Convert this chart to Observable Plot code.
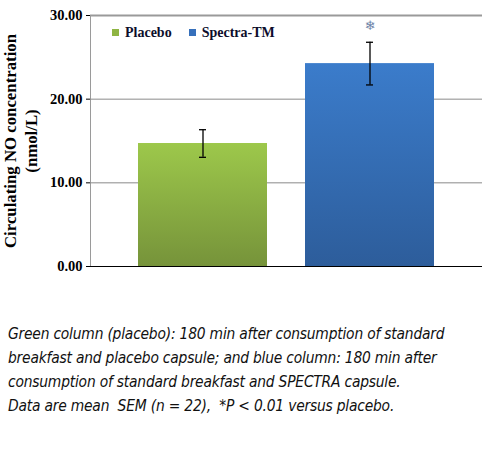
<!DOCTYPE html>
<html>
<head>
<meta charset="utf-8">
<script src="https://cdn.jsdelivr.net/npm/d3@7"></script>
<script src="https://cdn.jsdelivr.net/npm/@observablehq/plot@0.6"></script>
<style>
  body { margin: 0; background: #fff; }
  #wrap { position: relative; width: 491px; }
  .legend { position: absolute; top: 25px; left: 112px; font: bold 14px "Liberation Serif", serif; color: #0d0d2b; display: flex; gap: 17px; }
  .legend span::before { content: ""; display: inline-block; width: 7px; height: 7px; margin-right: 6px; vertical-align: 1px; background: var(--c); }
  .caption { margin: 42px 0 0 8px; font: italic 15.4px/24px "DejaVu Sans Condensed", "DejaVu Sans", sans-serif; color: #111; letter-spacing: -0.2px; }
</style>
</head>
<body>
<div id="wrap">
  <div id="chart"></div>
  <div class="legend" id="legend"></div>
</div>
<div class="caption">Green column (placebo): 180 min after consumption of standard<br>breakfast and placebo capsule; and blue column: 180 min after<br>consumption of standard breakfast and SPECTRA capsule.<br>Data are mean&nbsp; SEM (n = 22),&nbsp; *P &lt; 0.01 versus placebo.</div>
<script>
const groups = ['Placebo', 'Spectra-TM']
const means = [14.7, 24.25]
const sem = [1.65, 2.55]
const starAt = [null, 28.8] // posiciÃ³n del asterisco de significancia
const yTicks = [0, 10, 20, 30]
const colores = ['#8fb543', '#3670bb']

const data = groups.map((g, i) => ({grupo: g, media: means[i], sem: sem[i], star: starAt[i]}))

// gradientes como los de Excel + linea del eje izquierdo
const fondo = (index, scales, values, dim) => {
  const g = d3.create('svg:g')
  const defs = g.append('defs')
  const g1 = defs.append('linearGradient').attr('id', 'gVerde').attr('x1', 0).attr('x2', 0).attr('y1', 0).attr('y2', 1)
  g1.append('stop').attr('offset', '0%').attr('stop-color', '#9dc84b')
  g1.append('stop').attr('offset', '100%').attr('stop-color', '#76933a')
  const g2 = defs.append('linearGradient').attr('id', 'gAzul').attr('x1', 0).attr('x2', 0).attr('y1', 0).attr('y2', 1)
  g2.append('stop').attr('offset', '0%').attr('stop-color', '#3b7ccb')
  g2.append('stop').attr('offset', '100%').attr('stop-color', '#2d5d9b')
  g.append('line')
    .attr('x1', dim.marginLeft + 0.5).attr('x2', dim.marginLeft + 0.5)
    .attr('y1', dim.marginTop).attr('y2', dim.height - dim.marginBottom)
    .attr('stroke', '#9a9a9a')
  return g.node()
}

let chart = Plot.plot({
  width: 491,
  height: 280,
  marginLeft: 90,
  marginRight: 9,
  marginTop: 15,
  marginBottom: 14,
  style: {fontFamily: '"Liberation Serif", serif', fontSize: '14.5px', fontWeight: 'bold', color: '#000'},
  x: {domain: groups, paddingInner: 0.226, paddingOuter: 0.28, axis: null},
  y: {domain: [0, 30], ticks: yTicks, tickFormat: d3.format('.2f'), label: null, tickSize: 4, tickPadding: 4},
  marks: [
    fondo,
    Plot.ruleY([10, 20], {stroke: '#8a8a8a', strokeWidth: 1}),
    Plot.ruleY([30], {stroke: '#9a9a9a', strokeWidth: 2}),
    Plot.barY(data.filter(d => d.grupo === 'Placebo'), {x: 'grupo', y: 'media', fill: 'url(#gVerde)'}),
    Plot.barY(data.filter(d => d.grupo === 'Spectra-TM'), {x: 'grupo', y: 'media', fill: 'url(#gAzul)'}),
    Plot.ruleY([0], {stroke: '#000', strokeWidth: 1.2}),
    Plot.ruleX(data, {x: 'grupo', y1: d => d.media - d.sem, y2: d => d.media + d.sem, stroke: '#000', strokeWidth: 1.3}),
    Plot.tickY(data, {x: 'grupo', y: d => d.media - d.sem, stroke: '#000', strokeWidth: 1.3, insetLeft: 61, insetRight: 61}),
    Plot.tickY(data, {x: 'grupo', y: d => d.media + d.sem, stroke: '#000', strokeWidth: 1.3, insetLeft: 61, insetRight: 61}),
    Plot.text(data.filter(d => d.star != null), {x: 'grupo', y: 'star', text: () => '\u2744', fill: '#6f84a8', fontSize: 13, fontWeight: 'normal', fontFamily: 'DejaVu Sans'}),
    Plot.text(['Circulating NO concentration\n(nmol/L)'], {frameAnchor: 'left', textAnchor: 'middle', rotate: -90, dx: -71, fontSize: 16.8, lineHeight: 1.3, fill: '#000'})
  ]
})

d3.select('#chart').append(() => chart)

d3.select('#legend').selectAll('span').data(groups).join('span')
  .style('--c', (d, i) => colores[i])
  .text(d => d)
</script>
</body>
</html>
